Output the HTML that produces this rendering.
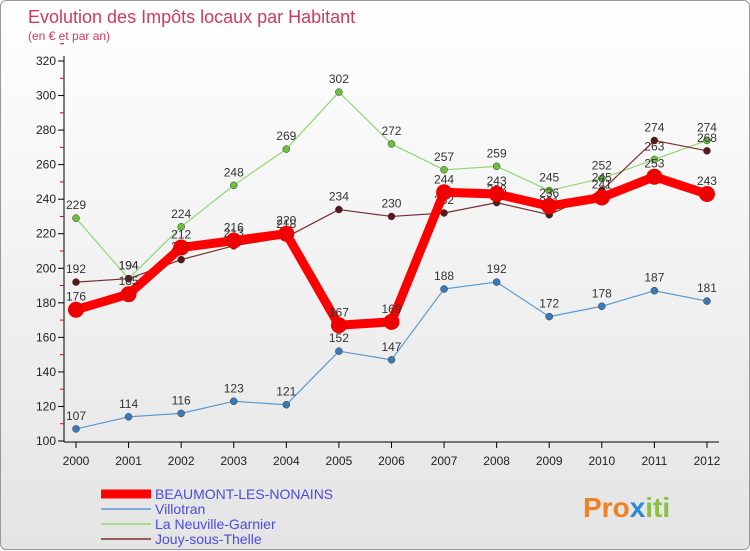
<!DOCTYPE html>
<html><head><meta charset="utf-8"><style>
body{margin:0;width:750px;height:550px;overflow:hidden;font-family:"Liberation Sans",sans-serif}
#wrap{position:absolute;left:0;top:0;width:748px;height:548px;border:1px solid #999;border-radius:6px;background:linear-gradient(#ffffff,#e4e4e4)}
</style></head><body>
<div id="wrap">
<svg id="chart" width="750" height="550" style="position:absolute;left:0;top:0">
<text x="27" y="22" font-size="18" fill="#d03a5a">Evolution des Impôts locaux par Habitant</text>
<text x="27" y="39" font-size="12" fill="#d03a5a">(en € et par an)</text>
<g id="axes"></g><g id="series"></g><g id="legend"></g>
<text x="582" y="516" font-size="28" font-weight="bold" fill="#f08020">Pro<tspan fill="#2a8ad0">x</tspan><tspan fill="#8ac040">iti</tspan></text>
</svg></div>
<script>
const years=[2000,2001,2002,2003,2004,2005,2006,2007,2008,2009,2010,2011,2012];
const beaumont=[176,185,212,216,220,167,169,244,243,236,241,253,243];
const villotran=[107,114,116,123,121,152,147,188,192,172,178,187,181];
const neuville=[229,194,224,248,269,302,272,257,259,245,252,263,274];
const jouy=[192,194,205,213,218,234,230,232,238,231,245,274,268];
const yTicks=[100,120,140,160,180,200,220,240,260,280,300,320];
const names=["BEAUMONT-LES-NONAINS","Villotran","La Neuville-Garnier","Jouy-sous-Thelle"];
const NS="http://www.w3.org/2000/svg";
const x=i=>75+i*52.58;
const y=v=>440-(v-100)*380/220;
function mk(t,a,p){const e=document.createElementNS(NS,t);for(const k in a)e.setAttribute(k,a[k]);p.appendChild(e);return e;}
const ax=document.getElementById('axes');
const yl=mk('line',{x1:63,y1:55,x2:63,y2:441,stroke:'#000'},ax);


const xl=mk('line',{x1:63,y1:441,x2:718,y2:441,stroke:'#000'},ax);


yTicks.forEach(v=>{
 mk('line',{x1:57,y1:y(v),x2:63,y2:y(v),stroke:'#000'},ax);
 mk('line',{x1:59,y1:y(v+10),x2:63,y2:y(v+10),stroke:'#d00'},ax);
 const t=mk('text',{x:55,y:y(v)+4,'font-size':12,'text-anchor':'end',fill:'#222'},ax);t.textContent=v;
 
 
});
years.forEach((yr,i)=>{
 mk('line',{x1:x(i),y1:441,x2:x(i),y2:447,stroke:'#000'},ax);
 const t=mk('text',{x:x(i),y:464,'font-size':12,'text-anchor':'middle',fill:'#222'},ax);t.textContent=yr;
 
 
});
const sg=document.getElementById('series');
const defs=[[villotran,'#5a9ad0','#3a7ab8',1.2,3.5,'villotran'],[neuville,'#90d870','#6cc040',1.2,3.5,'la-neuville-garnier'],[jouy,'#7a3030','#5a1818',1.2,3.5,'jouy-sous-thelle'],[beaumont,'#ff0000','#ee0000',9,8,'beaumont-les-nonains']];
defs.forEach(([d,c,pc,w,r,n])=>{
 const g=mk('g',{},sg);
 
 
 const p=mk('polyline',{points:d.map((v,i)=>x(i)+','+y(v)).join(' '),fill:'none',stroke:c,'stroke-width':w,'stroke-linejoin':'round'},g);
 d.forEach((v,i)=>{
  const cc=mk('circle',{cx:x(i),cy:y(v),r:r,fill:pc,stroke:w>2?'#e00':'#333','stroke-width':w>2?0:0.5},g);
  
  
  const t=mk('text',{x:x(i),y:y(v)-9,'font-size':12,'text-anchor':'middle',fill:'#333'},g);t.textContent=v;
 });
});
const lg=document.getElementById('legend');
const lc=[['#ff0000',9],['#5a9ad0',1.5],['#90d870',1.5],['#7a3030',1.5]];
names.forEach((n,i)=>{
 const yy=493+i*15;
 const g=mk('g',{},lg);
 
 
 mk('line',{x1:100,y1:yy,x2:150,y2:yy,stroke:lc[i][0],'stroke-width':lc[i][1]},g);
 const t=mk('text',{x:154,y:yy+5,'font-size':14,fill:'#4a4ae0'},g);t.textContent=n;
});
</script>
</body></html>
